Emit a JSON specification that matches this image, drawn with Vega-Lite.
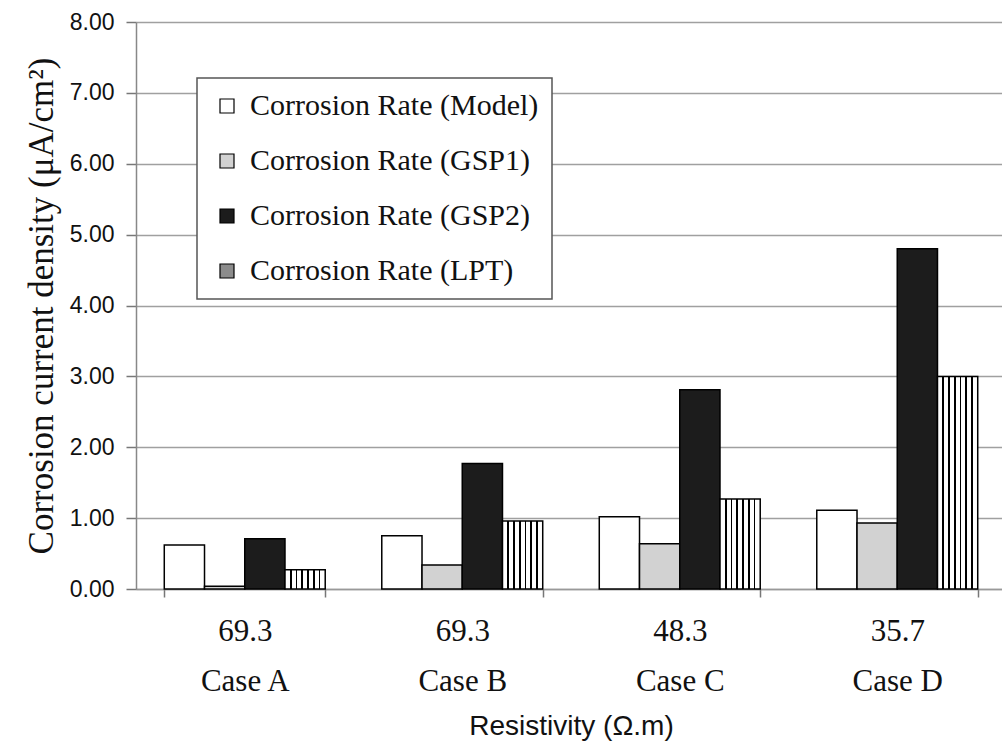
{
  "$schema": "https://vega.github.io/schema/vega-lite/v6.json",
  "autosize": {"type": "none"},
  "padding": {"left": 136, "top": 22, "right": 0, "bottom": 160},
  "width": 870,
  "height": 567,
  "background": "white",
  "data": {
    "values": [
      {"case": "69.3|Case A", "series": "Corrosion Rate (Model)", "value": 0.62},
      {"case": "69.3|Case A", "series": "Corrosion Rate (GSP1)", "value": 0.04},
      {"case": "69.3|Case A", "series": "Corrosion Rate (GSP2)", "value": 0.71},
      {"case": "69.3|Case A", "series": "Corrosion Rate (LPT)", "value": 0.27},
      {"case": "69.3|Case B", "series": "Corrosion Rate (Model)", "value": 0.75},
      {"case": "69.3|Case B", "series": "Corrosion Rate (GSP1)", "value": 0.34},
      {"case": "69.3|Case B", "series": "Corrosion Rate (GSP2)", "value": 1.77},
      {"case": "69.3|Case B", "series": "Corrosion Rate (LPT)", "value": 0.96},
      {"case": "48.3|Case C", "series": "Corrosion Rate (Model)", "value": 1.02},
      {"case": "48.3|Case C", "series": "Corrosion Rate (GSP1)", "value": 0.64},
      {"case": "48.3|Case C", "series": "Corrosion Rate (GSP2)", "value": 2.81},
      {"case": "48.3|Case C", "series": "Corrosion Rate (LPT)", "value": 1.27},
      {"case": "35.7|Case D", "series": "Corrosion Rate (Model)", "value": 1.11},
      {"case": "35.7|Case D", "series": "Corrosion Rate (GSP1)", "value": 0.93},
      {"case": "35.7|Case D", "series": "Corrosion Rate (GSP2)", "value": 4.80},
      {"case": "35.7|Case D", "series": "Corrosion Rate (LPT)", "value": 3.00}
    ]
  },
  "mark": {"type": "bar", "stroke": "black", "strokeWidth": 1.5, "fillOpacity": 1},
  "encoding": {
    "x": {
      "field": "case",
      "type": "nominal",
      "sort": ["69.3|Case A", "69.3|Case B", "48.3|Case C", "35.7|Case D"],
      "scale": {"paddingInner": 0.26, "paddingOuter": 0.13},
      "axis": {
        "title": "Resistivity (Ω.m)",
        "titleFont": "Liberation Sans",
        "titleFontSize": 28,
        "titleFontWeight": "normal",
        "titleColor": "#111",
        "titlePadding": 16,
        "labelExpr": "split(datum.label, '|')",
        "labelFont": "Liberation Serif",
        "labelFontSize": 31,
        "labelLineHeight": 50,
        "labelColor": "#111",
        "labelAngle": 0,
        "labelPadding": 19,
        "tickBand": "extent",
        "tickSize": 8,
        "tickColor": "#777",
        "tickWidth": 1.5,
        "domainColor": "#999",
        "domainWidth": 1.5,
        "grid": false
      }
    },
    "xOffset": {
      "field": "series",
      "type": "nominal",
      "sort": ["Corrosion Rate (Model)", "Corrosion Rate (GSP1)", "Corrosion Rate (GSP2)", "Corrosion Rate (LPT)"],
      "scale": {"paddingInner": 0, "paddingOuter": 0}
    },
    "y": {
      "field": "value",
      "type": "quantitative",
      "scale": {"domain": [0, 8], "nice": false},
      "axis": {
        "title": "Corrosion current density (μA/cm²)",
        "titleFont": "Liberation Serif",
        "titleFontSize": 35,
        "titleFontWeight": "normal",
        "titleColor": "#111",
        "titlePadding": 10,
        "values": [0, 1, 2, 3, 4, 5, 6, 7, 8],
        "format": ".2f",
        "labelFont": "Liberation Sans",
        "labelFontSize": 23,
        "labelColor": "#111",
        "labelPadding": 12,
        "tickSize": 10,
        "tickColor": "#777",
        "tickWidth": 1.5,
        "domainColor": "#888",
        "domainWidth": 1.5,
        "grid": true,
        "gridColor": "#a0a0a0",
        "gridWidth": 1.5
      }
    },
    "color": {
      "condition": {
        "test": "datum.series === 'Corrosion Rate (LPT)'",
        "value": {
          "gradient": "linear",
          "x1": 0, "y1": 0, "x2": 1, "y2": 0,
          "stops": [
            {"offset": 0, "color": "white"},
            {"offset": 0.123, "color": "white"},
            {"offset": 0.123, "color": "black"},
            {"offset": 0.163, "color": "black"},
            {"offset": 0.163, "color": "white"},
            {"offset": 0.266, "color": "white"},
            {"offset": 0.266, "color": "black"},
            {"offset": 0.306, "color": "black"},
            {"offset": 0.306, "color": "white"},
            {"offset": 0.409, "color": "white"},
            {"offset": 0.409, "color": "black"},
            {"offset": 0.449, "color": "black"},
            {"offset": 0.449, "color": "white"},
            {"offset": 0.551, "color": "white"},
            {"offset": 0.551, "color": "black"},
            {"offset": 0.591, "color": "black"},
            {"offset": 0.591, "color": "white"},
            {"offset": 0.694, "color": "white"},
            {"offset": 0.694, "color": "black"},
            {"offset": 0.734, "color": "black"},
            {"offset": 0.734, "color": "white"},
            {"offset": 0.837, "color": "white"},
            {"offset": 0.837, "color": "black"},
            {"offset": 0.877, "color": "black"},
            {"offset": 0.877, "color": "white"},
            {"offset": 1, "color": "white"}
          ]
        }
      },
      "field": "series",
      "type": "nominal",
      "sort": ["Corrosion Rate (Model)", "Corrosion Rate (GSP1)", "Corrosion Rate (GSP2)", "Corrosion Rate (LPT)"],
      "scale": {
        "domain": ["Corrosion Rate (Model)", "Corrosion Rate (GSP1)", "Corrosion Rate (GSP2)", "Corrosion Rate (LPT)"],
        "range": ["#ffffff", "#d2d2d2", "#1c1c1c", "#8c8c8c"]
      },
      "legend": {
        "title": null,
        "orient": "none",
        "legendX": 61,
        "legendY": 56,
        "direction": "vertical",
        "padding": 13,
        "strokeColor": "#555",
        "fillColor": "white",
        "symbolType": "square",
        "symbolSize": 196,
        "symbolStrokeColor": "black",
        "symbolStrokeWidth": 1.2,
        "symbolOffset": 2,
        "labelFont": "Liberation Serif",
        "labelFontSize": 30,
        "labelColor": "#111",
        "labelLimit": 500,
        "labelOffset": 8,
        "rowPadding": 25
      }
    }
  },
  "config": {
    "view": {"stroke": null},
    "legend": {"strokeWidth": 1.5}
  }
}
